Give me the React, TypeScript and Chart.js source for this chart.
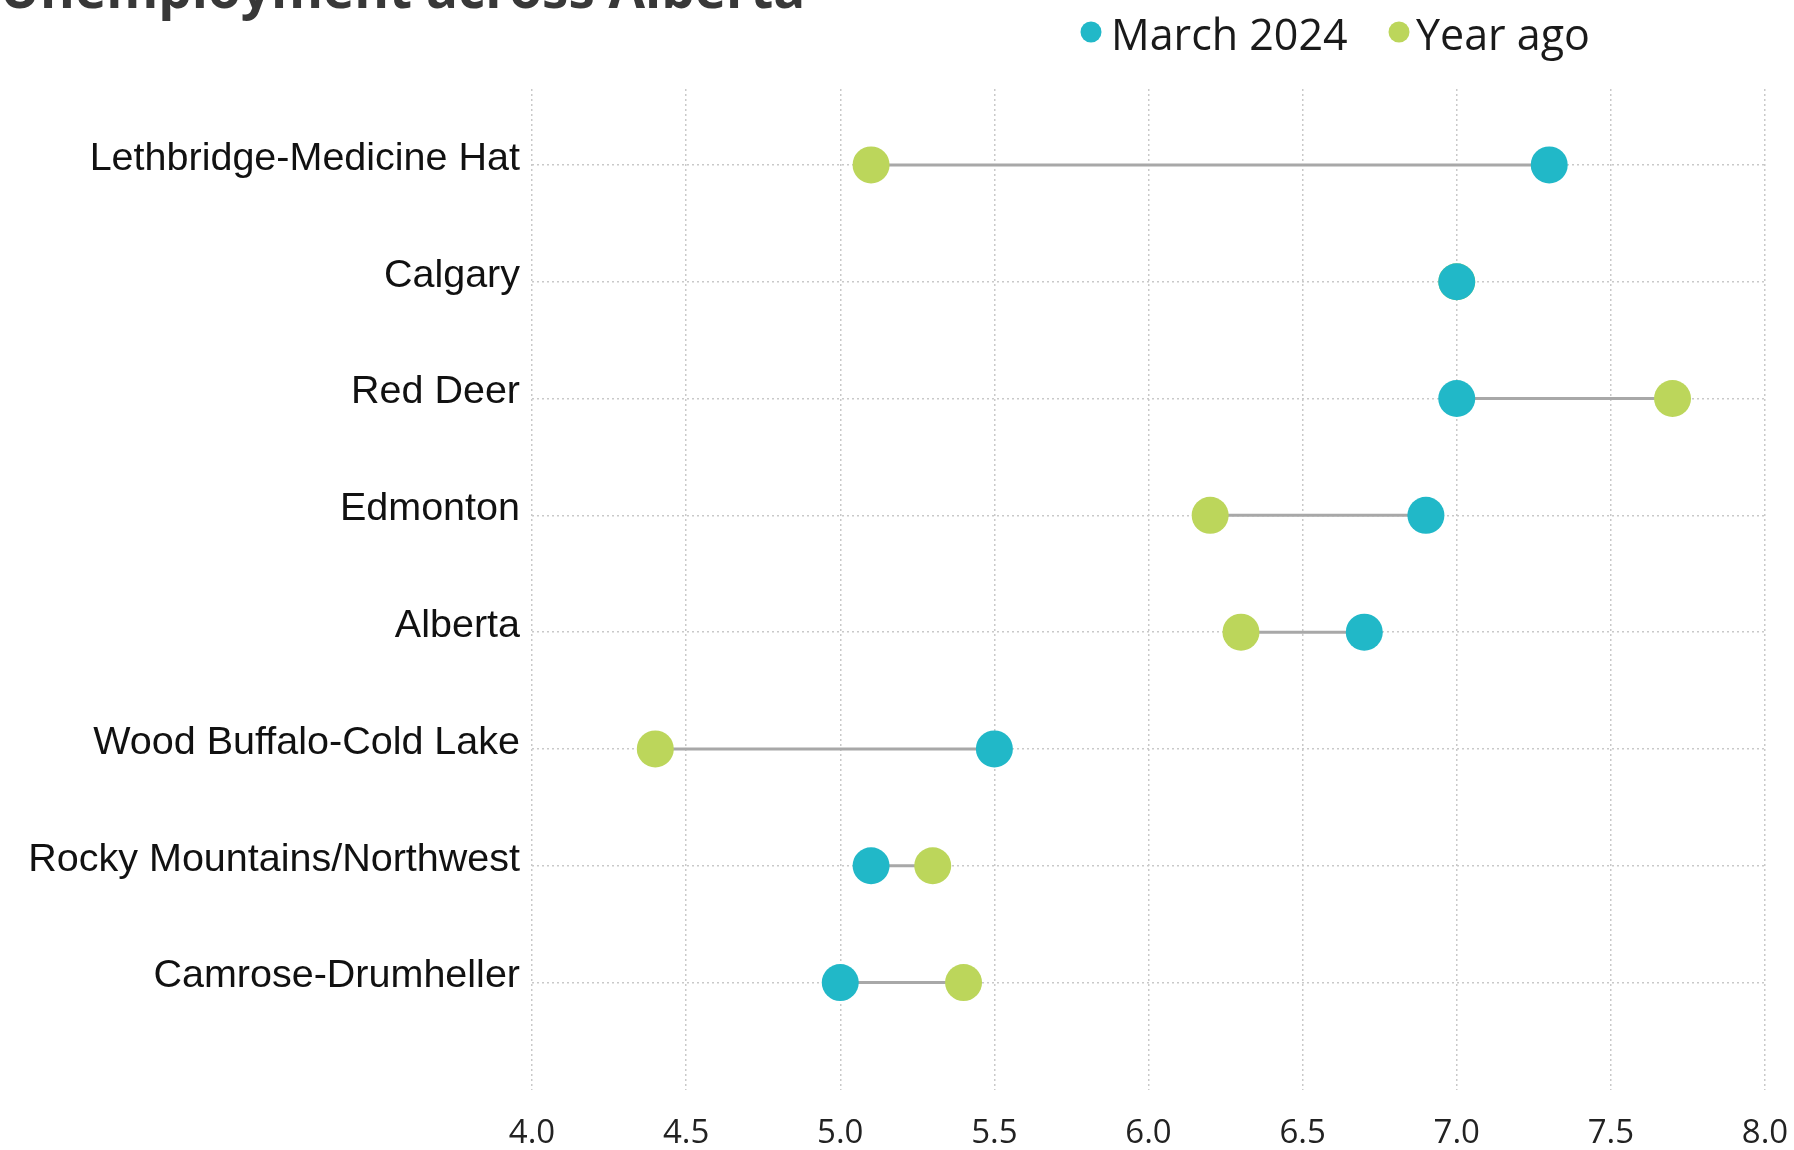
import React, { useEffect, useRef } from "react";
import { Chart, registerables } from "chart.js";

Chart.register(...registerables);

const titleText = "Unemployment across Alberta";
const regions = [
  "Lethbridge-Medicine Hat",
  "Calgary",
  "Red Deer",
  "Edmonton",
  "Alberta",
  "Wood Buffalo-Cold Lake",
  "Rocky Mountains/Northwest",
  "Camrose-Drumheller",
];
const seriesNames = ["March 2024", "Year ago"];
const march2024 = [7.3, 7.0, 7.0, 6.9, 6.7, 5.5, 5.1, 5.0];
const yearAgo = [5.1, 7.0, 7.7, 6.2, 6.3, 4.4, 5.3, 5.4];
const xMin = 4.0;
const xMax = 8.0;
const xStep = 0.5;

const TEAL = "#21b8c8";
const GREEN = "#bcd65b";
const CONNECTOR = "#a8a8a8";
const GRID = "#c9c9c9";

const overlayPlugin = {
  id: "overlay",
  afterDraw(chart: any) {
    const ctx = chart.ctx;
    ctx.save();
    // title (cut off at the top, as in the reference)
    ctx.font = 'bold 53px "Open Sans"';
    ctx.fillStyle = "#383838";
    ctx.textBaseline = "alphabetic";
    ctx.textAlign = "left";
    ctx.fillText(titleText, 0, 8);
    // legend
    const items = [
      { label: seriesNames[0], color: TEAL, dotX: 1091, textX: 1111 },
      { label: seriesNames[1], color: GREEN, dotX: 1399, textX: 1416 },
    ];
    ctx.font = '43px "Open Sans"';
    for (const it of items) {
      ctx.beginPath();
      ctx.fillStyle = it.color;
      ctx.arc(it.dotX, 32, 10.5, 0, Math.PI * 2);
      ctx.fill();
      ctx.fillStyle = "#1a1a1a";
      ctx.fillText(it.label, it.textX, 50);
    }
    ctx.restore();
  },
};

export default function App() {
  const ref = useRef<HTMLCanvasElement | null>(null);

  useEffect(() => {
    if (!ref.current) return;
    const connectorData: any[] = [];
    regions.forEach((_, i) => {
      connectorData.push({ x: march2024[i], y: i });
      connectorData.push({ x: yearAgo[i], y: i });
      connectorData.push({ x: march2024[i], y: null });
    });

    const chart = new Chart(ref.current, {
      type: "scatter",
      data: {
        datasets: [
          {
            label: seriesNames[0],
            data: regions.map((_, i) => ({ x: march2024[i], y: i })),
            backgroundColor: TEAL,
            borderWidth: 0,
            pointRadius: 18.5,
            pointHoverRadius: 18.5,
          } as any,
          {
            label: seriesNames[1],
            data: regions.map((_, i) => ({ x: yearAgo[i], y: i })),
            backgroundColor: GREEN,
            borderWidth: 0,
            pointRadius: 18.5,
            pointHoverRadius: 18.5,
          } as any,
          {
            type: "line",
            label: "connector",
            data: connectorData,
            borderColor: CONNECTOR,
            borderWidth: 3,
            pointRadius: 0,
            pointHoverRadius: 0,
            showLine: true,
            spanGaps: false,
            fill: false,
          } as any,
        ],
      },
      options: {
        responsive: false,
        animation: false,
        events: [],
        layout: { padding: { top: 89, right: 29, left: 0, bottom: 0 } },
        plugins: {
          legend: { display: false },
          tooltip: { enabled: false },
          title: { display: false },
        },
        scales: {
          x: {
            type: "linear",
            position: "bottom",
            min: xMin,
            max: xMax,
            ticks: {
              stepSize: xStep,
              callback: (v: any) => Number(v).toFixed(1),
              font: { family: '"Open Sans"', size: 33 },
              color: "#222",
              padding: 24,
              maxRotation: 0,
            },
            grid: { color: GRID, lineWidth: 1.5, drawTicks: false },
            border: { display: false, dash: [2, 3] },
            afterFit: (scale: any) => {
              scale.height = 60;
              scale.paddingLeft = 0;
              scale.paddingRight = 0;
            },
          },
          y: {
            type: "linear",
            reverse: true,
            min: -0.65,
            max: 7.92,
            afterBuildTicks: (scale: any) => {
              scale.ticks = regions.map((_, i) => ({ value: i }));
            },
            ticks: {
              autoSkip: false,
              callback: (v: any) => regions[v as number],
              font: { family: '"Liberation Sans"', size: 39.5 },
              color: "#111",
              padding: 12,
              labelOffset: -6,
            },
            grid: { color: GRID, lineWidth: 1.5, drawTicks: false },
            border: { display: false, dash: [2, 3] },
            afterFit: (scale: any) => {
              scale.width = 532;
              scale.paddingTop = 0;
              scale.paddingBottom = 0;
            },
          },
        },
      } as any,
      plugins: [overlayPlugin],
    });
    return () => chart.destroy();
  }, []);

  return (
    <div
      style={{
        position: "fixed",
        left: 0,
        top: 0,
        width: 1794,
        height: 1150,
        background: "#ffffff",
        overflow: "hidden",
      }}
    >
      <canvas ref={ref} width={1794} height={1150} style={{ display: "block" }} />
    </div>
  );
}
